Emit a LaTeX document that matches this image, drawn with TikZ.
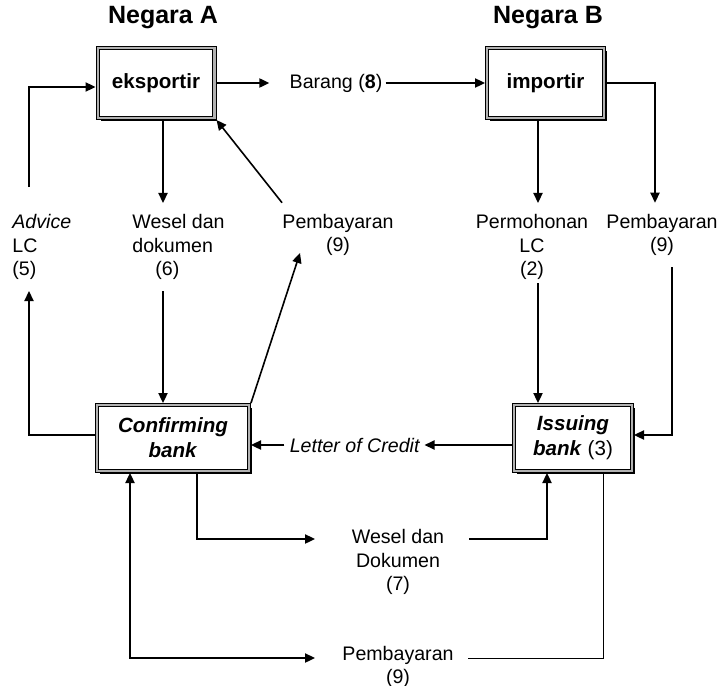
\documentclass[tikz,border=0pt]{standalone}
\usepackage{fontspec}
\setmainfont{Liberation Sans}
\usetikzlibrary{arrows.meta,shadows}

\tikzset{
  party/.style={draw, double=gray!60, double distance=1.2pt, line width=0.5pt,
    fill=white, inner sep=0pt, outer sep=1.1pt, align=center,
    font=\fontsize{10.3}{12.5}\selectfont\bfseries,
    drop shadow={shadow xshift=1.5pt, shadow yshift=-1.5pt, fill=black, opacity=1}},
  lbl/.style={inner xsep=0pt, inner ysep=5.5pt, align=center,
    font=\fontsize{9.8}{11.75}\selectfont},
  negara/.style={font=\fontsize{12.5}{15}\selectfont\bfseries},
  flow/.style={->, line width=0.8pt},
  link/.style={line width=0.5pt},
}

\begin{document}
\begin{tikzpicture}[x=0.5pt, y=-0.5pt, >={Triangle[length=5pt,width=4.6pt]}]
    \useasboundingbox (0,0) rectangle (722,685);

    %% countries
    \node[negara] (negA) at (163,18) {Negara A};
    \node[negara] (negB) at (548,18) {Negara B};

    %% parties and banks
    \node[party, minimum width=58.3pt, minimum height=34.8pt] (eksportir) at (156,83) {eksportir};
    \node[party, minimum width=58.3pt, minimum height=34.8pt] (importir) at (545.5,83) {importir};
    \node[party, minimum width=75.8pt, minimum height=32.8pt] (confirming) at (173,438)
      {\textit{Confirming}\\\textit{bank}};
    \node[party, minimum width=58.8pt, minimum height=32.8pt] (issuing) at (573,438)
      {\textit{Issuing}\\\textit{bank} {\mdseries(3)}};

    %% flow labels
    \node[lbl] (barang) at (336,83) {Barang (\textbf{8})};
    \node[lbl, anchor=west, align=left] (advice) at (12,247) {\textit{Advice}\\LC\\(5)};
    \node[lbl, anchor=west, align=left] (wesel6) at (132,247) {Wesel dan\\dokumen\\\hspace*{11.5pt}(6)};
    \node[lbl] (bayarA) at (338,235) {Pembayaran\\(9)};
    \node[lbl] (permohonan) at (532,247) {Permohonan\\LC\\(2)};
    \node[lbl] (bayarB) at (662,235) {Pembayaran\\(9)};
    \node[lbl] (loc) at (355,445) {\textit{Letter of Credit}};
    \node[lbl] (weselB) at (398,562) {Wesel dan\\Dokumen\\(7)};
    \node[lbl] (bayarC) at (398,667) {Pembayaran\\(9)};

    %% columns and loose ends
    \coordinate (colA) at (163,0);
    \coordinate (colB) at (538,0);
    \coordinate (colC) at (655,0);
    \coordinate (colD) at (672,0);
    \coordinate (colE) at (29,0);
    \coordinate (colF) at (197,0);
    \coordinate (colG) at (547,0);
    \coordinate (colH) at (130,0);
    \coordinate (colI) at (603,0);
    \coordinate (adviceTop) at (29,187);
    \coordinate (lcOut) at (538,283);
    \coordinate (payA) at (300,253);
    \coordinate (w7in) at (315,539);
    \coordinate (w7out) at (469,539);
    \coordinate (p9in) at (315,658);
    \coordinate (p9out) at (468,658);

    %% goods
    \draw[flow] (eksportir.east) -- ([xshift=-10pt]barang.west);
    \draw[flow] ([xshift=1.5pt]barang.east) -- (importir.west);

    %% importer side
    \draw[flow] (importir.south -| colB) -- (permohonan.north -| colB);
    \draw[flow] (lcOut) -- (issuing.north -| colB);
    \draw[flow] (importir.east) -| (bayarB.north -| colC);
    \draw[flow] (bayarB.south -| colD) |- ([yshift=1.5pt]issuing.east);

    %% exporter side
    \draw[flow] (eksportir.south -| colA) -- (wesel6.north -| colA);
    \draw[flow] (wesel6.south -| colA) -- (confirming.north -| colA);
    \draw[flow] (bayarA.north west) -- (eksportir.south east);
    \draw[flow] (confirming.north east) -- (payA);
    \draw[flow] ([yshift=1.5pt]confirming.west) -| (advice.south -| colE);
    \draw[flow] (adviceTop) |- ([yshift=-2pt]eksportir.west);

    %% between the banks
    \draw[flow] (issuing.west |- loc) -- ([xshift=2pt]loc.east);
    \draw[flow] ([xshift=-2.5pt]loc.west) -- (confirming.east |- loc);
    \draw[flow] (confirming.south -| colF) |- (w7in);
    \draw[flow] (w7out) -| (issuing.south -| colG);
    \draw[flow, <->] (confirming.south -| colH) |- (p9in);
    \draw[link] (p9out) -| (issuing.south -| colI);
\end{tikzpicture}
\end{document}
